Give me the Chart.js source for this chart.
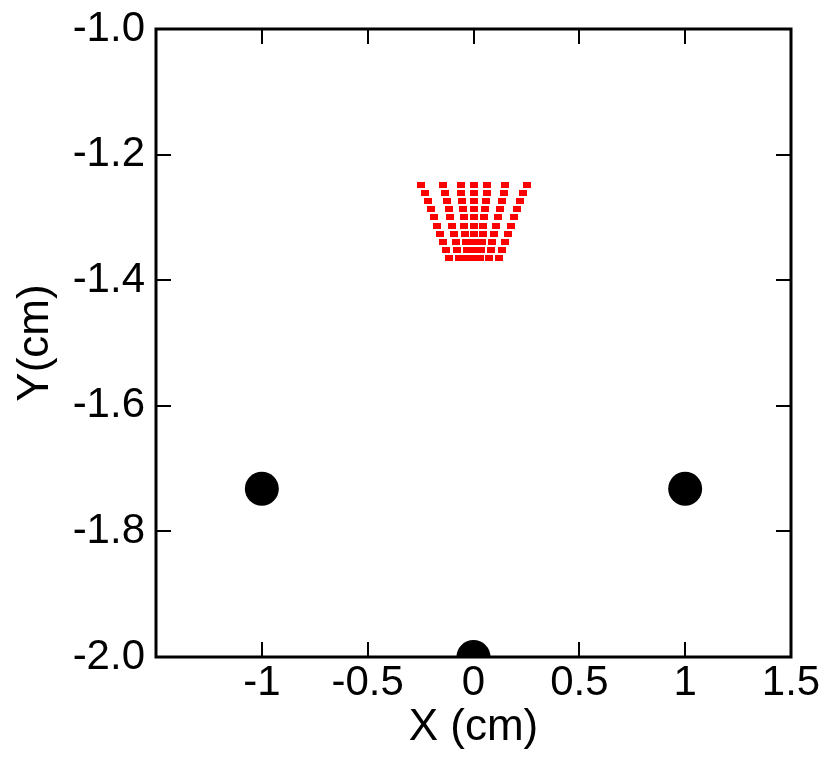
<!DOCTYPE html>
<html>
<head>
<meta charset="utf-8">
<script src="https://cdn.jsdelivr.net/npm/chart.js@4/dist/chart.umd.min.js"></script>
<style>
  html, body { margin: 0; padding: 0; background: #fff; }
  #wrap { width: 831px; height: 768px; }
</style>
</head>
<body>
<div id="wrap"><canvas id="chart" width="831" height="768"></canvas></div>
<script>
// Axis ticks
const xTicks = [-1, -0.5, 0, 0.5, 1, 1.5];
const yTicks = [-2.0, -1.8, -1.6, -1.4, -1.2, -1.0];

// Large black markers
const anchorX = [-1, 1, 0];
const anchorY = [-1.732, -1.732, -2.0];

// Red fan of points: shared row heights, one x list per column
const redRowY = [-1.248, -1.261, -1.274, -1.287, -1.300, -1.313, -1.326, -1.339, -1.352, -1.365];
const redCol1 = [-0.246, -0.231, -0.217, -0.202, -0.188, -0.173, -0.159, -0.144, -0.129, -0.115];
const redCol2 = [-0.142, -0.134, -0.126, -0.117, -0.109, -0.101, -0.093, -0.084, -0.076, -0.068];
const redCol3 = [-0.061, -0.058, -0.054, -0.051, -0.047, -0.044, -0.040, -0.037, -0.033, -0.030];
const redCol4 = [0.000, 0.000, 0.000, 0.000, 0.000, 0.000, 0.000, 0.000, 0.000, 0.000];
const redCol5 = [0.066, 0.062, 0.058, 0.055, 0.051, 0.047, 0.043, 0.040, 0.036, 0.032];
const redCol6 = [0.151, 0.142, 0.133, 0.125, 0.116, 0.107, 0.098, 0.089, 0.081, 0.072];
const redCol7 = [0.251, 0.236, 0.222, 0.207, 0.193, 0.178, 0.164, 0.149, 0.134, 0.120];

const FONT = '"Liberation Sans", Arial, sans-serif';

// Build point lists
const anchorPoints = anchorX.map((x, i) => ({ x: x, y: anchorY[i] }));
const redPoints = [];
[redCol1, redCol2, redCol3, redCol4, redCol5, redCol6, redCol7].forEach(col => {
    col.forEach((x, i) => redPoints.push({ x: x, y: redRowY[i] }));
});

// Small horizontal dash used as the red marker
const dash = document.createElement('canvas');
dash.width = 8;
dash.height = 6;
const dctx = dash.getContext('2d');
dctx.fillStyle = '#ff0000';
dctx.fillRect(0, 0, 8, 6);

// Frame and inward ticks on all four sides
const framePlugin = {
    id: 'frame',
    afterDraw(chart) {
        const ctx = chart.ctx;
        const a = chart.chartArea;
        const xs = chart.scales.x;
        const ys = chart.scales.y;
        const len = 15;
        ctx.save();
        ctx.strokeStyle = '#000';
        ctx.lineWidth = 2;
        ctx.beginPath();
        xTicks.forEach(v => {
            const px = Math.round(xs.getPixelForValue(v));
            ctx.moveTo(px, a.bottom); ctx.lineTo(px, a.bottom - len);
            ctx.moveTo(px, a.top); ctx.lineTo(px, a.top + len);
        });
        yTicks.forEach(v => {
            const py = Math.round(ys.getPixelForValue(v));
            ctx.moveTo(a.left, py); ctx.lineTo(a.left + len, py);
            ctx.moveTo(a.right, py); ctx.lineTo(a.right - len, py);
        });
        ctx.stroke();
        ctx.lineWidth = 3;
        ctx.strokeRect(a.left, a.top, a.right - a.left, a.bottom - a.top);
        ctx.restore();
    }
};

new Chart(document.getElementById('chart'), {
    type: 'scatter',
    data: {
        datasets: [
            {
                label: 'anchors',
                data: anchorPoints,
                backgroundColor: '#000',
                borderColor: '#000',
                pointRadius: 17,
                pointHoverRadius: 17,
                borderWidth: 0,
                order: 2
            },
            {
                label: 'points',
                data: redPoints,
                backgroundColor: '#ff0000',
                borderColor: '#ff0000',
                pointStyle: dash,
                pointRadius: 4,
                borderWidth: 0,
                order: 1
            }
        ]
    },
    options: {
        responsive: false,
        animation: false,
        events: [],
        layout: { padding: { top: 29, right: 40, bottom: 0, left: 0 } },
        plugins: {
            legend: { display: false },
            tooltip: { enabled: false }
        },
        scales: {
            x: {
                type: 'linear',
                min: -1.5,
                max: 1.5,
                afterBuildTicks: s => { s.ticks = xTicks.map(v => ({ value: v })); },
                afterFit: s => { s.height = 768 - 657; s.paddingLeft = 0; s.paddingRight = 0; },
                grid: { display: false, drawTicks: false },
                border: { display: false },
                ticks: {
                    color: '#000',
                    padding: 1,
                    font: { family: FONT, size: 42 },
                    callback: v => String(v)
                },
                title: {
                    display: true,
                    text: 'X (cm)',
                    color: '#000',
                    font: { family: FONT, size: 44 },
                    padding: { top: 0, bottom: 14 }
                }
            },
            y: {
                type: 'linear',
                min: -2.0,
                max: -1.0,
                afterBuildTicks: s => { s.ticks = yTicks.map(v => ({ value: v })); },
                afterFit: s => { s.width = 156; s.paddingTop = 0; s.paddingBottom = 0; },
                grid: { display: false, drawTicks: false },
                border: { display: false },
                ticks: {
                    color: '#000',
                    padding: 11,
                    font: { family: FONT, size: 42 },
                    callback: v => Number(v).toFixed(1)
                },
                title: {
                    display: true,
                    text: 'Y(cm)',
                    color: '#000',
                    font: { family: FONT, size: 44 },
                    padding: { top: 9, bottom: 0 }
                }
            }
        }
    },
    plugins: [framePlugin]
});
</script>
</body>
</html>
